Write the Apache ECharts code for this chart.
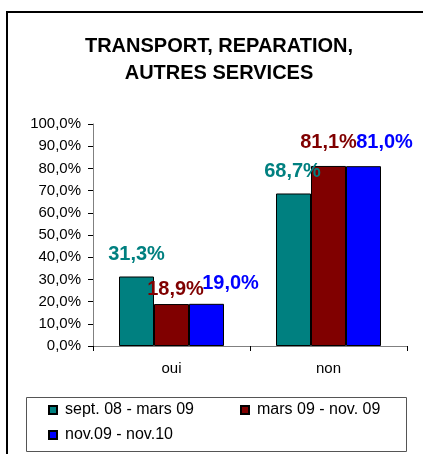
<!DOCTYPE html>
<html>
<head>
<meta charset="utf-8">
<script src="https://cdn.jsdelivr.net/npm/echarts@6/dist/echarts.min.js"></script>
<style>
  html, body { margin: 0; padding: 0; background: #fff; }
  #chart { width: 423px; height: 454px; }
</style>
</head>
<body>
<div id="chart"></div>
<script>
// Categories and series values (percent)
var categories = ['oui', 'non'];
var seriesNames = ['sept. 08 - mars 09', 'mars 09 - nov. 09', 'nov.09 - nov.10'];
var septMars = [31.3, 68.7];
var marsNov = [18.9, 81.1];
var novNov = [19.0, 81.0];
var yTicks = [0, 10, 20, 30, 40, 50, 60, 70, 80, 90, 100];

var colors = ['#008080', '#800000', '#0000FF'];
// label nudges per series / category, so neighbouring labels don't collide
var labelOffsets = [
  [[0, -7], [-1, -7]],
  [[4, 0], [0, -8]],
  [[24, -5], [21, -9]]
];

function pct(v) { return v.toFixed(1).replace('.', ',') + '%'; }

var values = [septMars, marsNov, novNov];
var series = values.map(function (arr, si) {
  return {
    name: seriesNames[si],
    type: 'bar',
    barWidth: 35,
    barGap: '0%',
    itemStyle: { color: colors[si], borderColor: '#000', borderWidth: 1 },
    data: arr.map(function (v, ci) {
      return {
        value: v,
        label: { offset: labelOffsets[si][ci] }
      };
    }),
    label: {
      show: true,
      position: 'top',
      distance: 5,
      color: colors[si],
      fontFamily: 'Liberation Sans, Arial, sans-serif',
      fontWeight: 'bold',
      fontSize: 20,
      formatter: function (p) { return pct(p.value); }
    }
  };
});

var legendPos = [[48, 402], [240, 402], [48, 427]];
var legends = seriesNames.map(function (n, i) {
  return {
    data: [n],
    left: legendPos[i][0],
    top: legendPos[i][1],
    padding: 0,
    itemWidth: 8,
    itemHeight: 8,
    itemGap: 0,
    icon: 'rect',
    selectedMode: false,
    textStyle: {
      fontFamily: 'Liberation Sans, Arial, sans-serif',
      fontSize: 16,
      color: '#000',
      padding: [0, 0, 0, 3]
    }
  };
});

var chart = echarts.init(document.getElementById('chart'), null, { renderer: 'canvas' });
chart.setOption({
  animation: false,
  backgroundColor: '#fff',
  title: {
    text: 'TRANSPORT, REPARATION,\nAUTRES SERVICES',
    left: 214,
    top: 28,
    textAlign: 'center',
    textStyle: {
      fontFamily: 'Liberation Sans, Arial, sans-serif',
      fontWeight: 'bold',
      fontSize: 20,
      lineHeight: 27,
      color: '#000'
    }
  },
  legend: legends,
  grid: { left: 93, right: 16, top: 124, bottom: 108 },
  xAxis: {
    type: 'category',
    data: categories,
    axisLine: { lineStyle: { color: '#808080', width: 1 } },
    axisTick: { show: true, length: 5, inside: false, lineStyle: { color: '#000' } },
    axisLabel: {
      margin: 15,
      fontFamily: 'Liberation Sans, Arial, sans-serif',
      fontSize: 15,
      color: '#000'
    }
  },
  yAxis: {
    type: 'value',
    min: yTicks[0],
    max: yTicks[yTicks.length - 1],
    interval: 10,
    splitLine: { show: false },
    axisLine: { show: true, lineStyle: { color: '#808080', width: 1 } },
    axisTick: { show: true, length: 5, lineStyle: { color: '#000' } },
    axisLabel: {
      margin: 12,
      fontFamily: 'Liberation Sans, Arial, sans-serif',
      fontSize: 15,
      color: '#000',
      formatter: function (v) { return pct(v); }
    }
  },
  series: series,
  graphic: [
    {
      type: 'rect',
      shape: { x: 7, y: 12, width: 600, height: 600 },
      style: { fill: 'none', stroke: '#000', lineWidth: 2 },
      silent: true
    },
    {
      type: 'rect',
      shape: { x: 26.5, y: 397.5, width: 380, height: 54 },
      style: { fill: 'none', stroke: '#555', lineWidth: 1 },
      silent: true
    }
  ]
});
</script>
</body>
</html>
